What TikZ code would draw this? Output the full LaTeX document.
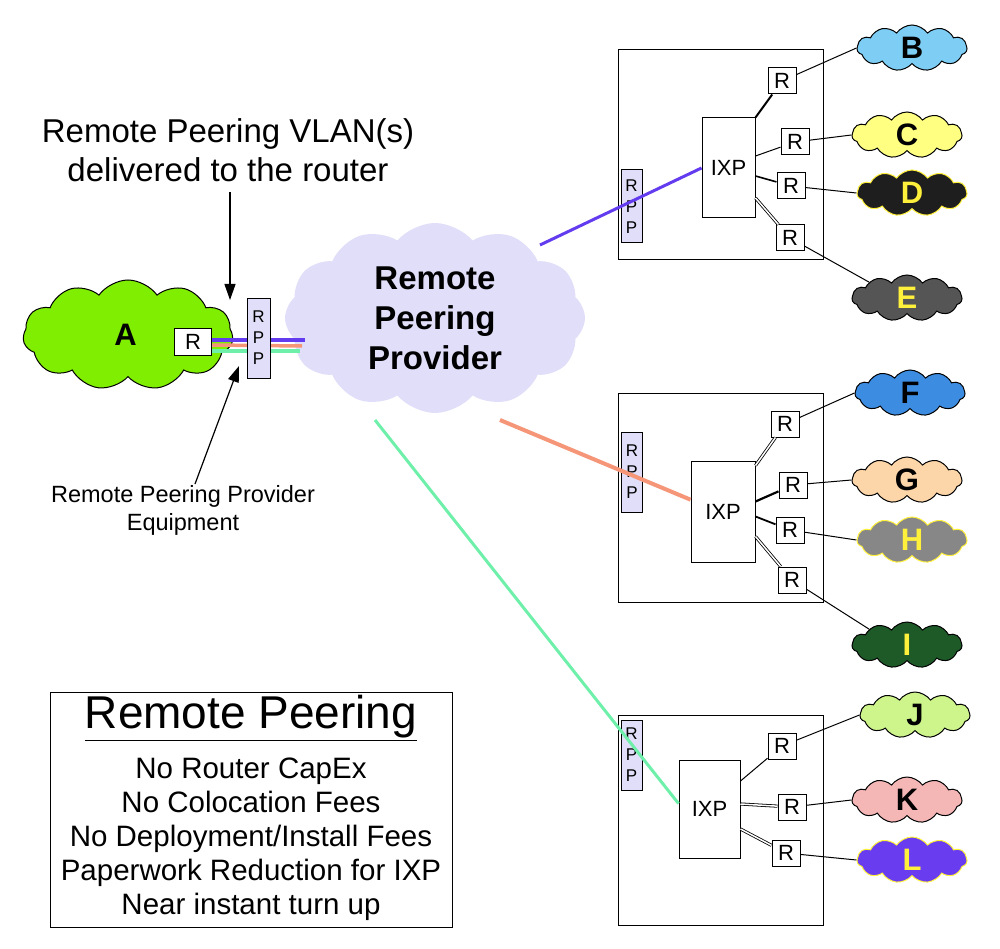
\documentclass[tikz,border=0pt]{standalone}
\usepackage{fontspec}
\setmainfont{Liberation Sans}
\usetikzlibrary{shapes.symbols,arrows.meta}
\begin{document}
\begin{tikzpicture}[x=1pt,y=-1pt,
  cl/.style={cloud,cloud puffs=11,cloud puff arc=110,aspect=2.4,draw=black,line width=1pt,minimum width=110pt,minimum height=46pt,inner sep=0pt,font=\fontsize{31}{33}\selectfont\bfseries},
  box/.style={draw=black,line width=1pt,fill=white},
  rr/.style={draw=black,line width=1pt,fill=white,minimum width=28pt,minimum height=26pt,inner sep=0pt,font=\fontsize{22}{22}\selectfont},
  rpp/.style={draw=black,line width=1pt,fill={rgb,255:red,224;green,222;blue,248},minimum width=21pt,inner sep=0pt,align=center,font=\fontsize{17}{21}\selectfont},
  ixp/.style={draw=black,line width=1pt,fill=white,inner sep=0pt,font=\fontsize{22}{22}\selectfont},
  ln/.style={line width=1pt},
  dl/.style={double,double distance=1.5pt,line width=0.8pt},
  txt/.style={align=center}]
\useasboundingbox (0,0) rectangle (1000,949);
\definecolor{pur}{RGB}{100,60,240}
\definecolor{sal}{RGB}{245,150,120}
\definecolor{grn}{RGB}{110,240,170}
\coordinate (c1) at (540,245);
\coordinate (c2) at (500,420);
\coordinate (c3) at (375,420);
\draw[box] (618,50) rectangle (823,260);
\draw[box] (618,393) rectangle (823,602);
\draw[box] (618,715) rectangle (823,925);
\node[ixp,minimum width=53pt,minimum height=100pt] (x1) at (728.5,168) {IXP};
\node[ixp,minimum width=64pt,minimum height=101pt] (x2) at (723,511.5) {IXP};
\node[ixp,minimum width=61pt,minimum height=98pt] (x3) at (709.5,809) {IXP};
\node[rpp,minimum height=73pt] (p1) at (631.5,206.5) {R\\P\\P};
\node[rpp,minimum height=80pt] (p2) at (632,472) {R\\P\\P};
\node[rpp,minimum height=70pt] (p3) at (631.5,755) {R\\P\\P};
\draw[pur,line width=3pt] (c1) -- (x1.west);
\draw[sal,line width=4pt] (c2) -- (x2.160);
\draw[grn,line width=3pt] (c3) -- (x3.170);
\node[cloud,cloud puffs=12,cloud puff arc=100,aspect=1.6,fill={rgb,255:red,224;green,222;blue,248},minimum width=300pt,minimum height=190pt,align=center,font=\fontsize{33}{40}\selectfont\bfseries] (rp) at (435,318) {Remote\\Peering\\Provider};
\node[rr] (r1) at (782,81) {R};
\node[rr] (r2) at (795,142) {R};
\node[rr] (r3) at (791,186) {R};
\node[rr] (r4) at (790,238) {R};
\node[rr] (r5) at (785,424) {R};
\node[rr] (r6) at (793,485) {R};
\node[rr] (r7) at (790,530) {R};
\node[rr] (r8) at (792,580) {R};
\node[rr] (r9) at (782,746) {R};
\node[rr] (r10) at (792,807) {R};
\node[rr] (r11) at (786,853) {R};
\draw[ln,line width=2pt] (x1.north east) -- (r1);
\draw[ln] (x1.east) ++(0,-12) -- (r2);
\draw[ln,line width=1.6pt] (x1.east) ++(0,8) -- (r3);
\draw[dl] (x1.east) ++(0,30) -- (r4);
\draw[dl] (x2.north east) ++(0,5) -- (r5);
\draw[ln,line width=2.2pt] (x2.east) ++(0,-10) -- (r6);
\draw[ln,line width=1.8pt] (x2.east) ++(0,5) -- (r7);
\draw[dl] (x2.east) ++(0,25) -- (r8);
\draw[ln] (x3.east) ++(0,-28) -- (r9);
\draw[dl] (x3.east) ++(0,-5) -- (r10);
\draw[dl] (x3.east) ++(0,20) -- (r11);
\node[cl,fill={rgb,255:red,125;green,205;blue,245}] (B) at (912,48) {B};
\node[cl,fill={rgb,255:red,255;green,255;blue,130}] (C) at (907,135) {C};
\node[cl,fill={rgb,255:red,30;green,30;blue,30},text={rgb,255:red,255;green,240;blue,60},draw={rgb,255:red,255;green,240;blue,60}] (D) at (912,193) {D};
\node[cl,fill={rgb,255:red,85;green,85;blue,85},text={rgb,255:red,255;green,240;blue,60}] (E) at (907,298) {E};
\node[cl,fill={rgb,255:red,60;green,140;blue,225}] (F) at (910,393) {F};
\node[cl,fill={rgb,255:red,252;green,213;blue,168}] (G) at (907,480) {G};
\node[cl,fill={rgb,255:red,135;green,135;blue,135},text={rgb,255:red,255;green,240;blue,60},draw={rgb,255:red,255;green,240;blue,60}] (H) at (912,540) {H};
\node[cl,fill={rgb,255:red,30;green,90;blue,40},text={rgb,255:red,255;green,240;blue,60}] (I) at (907,645) {I};
\node[cl,fill={rgb,255:red,205;green,245;blue,140}] (J) at (915,715) {J};
\node[cl,fill={rgb,255:red,245;green,182;blue,182}] (K) at (907,800) {K};
\node[cl,fill={rgb,255:red,105;green,60;blue,240},text={rgb,255:red,255;green,240;blue,60},draw={rgb,255:red,255;green,240;blue,60}] (L) at (912,860) {L};
\draw[ln] (r1) -- (B.west);
\draw[ln] (r2) -- (C.west);
\draw[ln] (r3) -- (D.west);
\draw[ln] (r4) -- (E.north west);
\draw[ln] (r5) -- (F.west);
\draw[ln] (r6) -- (G.west);
\draw[ln] (r7) -- (H.west);
\draw[ln] (r8) -- (I.north west);
\draw[ln] (r9) -- (J.west);
\draw[ln] (r10) -- (K.west);
\draw[ln] (r11) -- (L.west);
\node[cl,fill={rgb,255:red,128;green,238;blue,0},minimum width=210pt,minimum height=110pt,aspect=2] (A) at (128,335) {\hspace*{-5pt}A};
\node[rr,minimum width=37pt,minimum height=27pt] (ra) at (193,342) {R};
\coordinate (e1) at (305,340);
\coordinate (e2) at (302,346);
\coordinate (e3) at (300,351);
\draw[pur,line width=3.5pt] (ra.east) ++(0,-2) -- (e1);
\draw[sal,line width=3.5pt] (ra.east) ++(0,3) -- (e2);
\draw[grn,line width=3.5pt] (ra.east) ++(0,9) -- (e3);
\node[rpp,minimum height=80pt,minimum width=23pt] (pa) at (258.5,338) {R\\P\\P};
\node[txt,font=\fontsize{33}{39}\selectfont] (t1) at (228,150) {Remote Peering VLAN(s)\\delivered to the router};
\coordinate (a1) at (230,300);
\draw[line width=1.2pt,-{Triangle[length=16pt,width=11pt]}] (230,192) -- (a1);
\node[txt,font=\fontsize{23.5}{28}\selectfont] (t2) at (183,510) {Remote Peering Provider\\Equipment};
\coordinate (a2) at (239,366);
\draw[line width=1.2pt,-{Triangle[length=16pt,width=11pt]}] (195,484) -- (a2);
\draw[box] (50,692) rectangle (452,927);
\node[font=\fontsize{46}{48}\selectfont] (lg) at (251,718) {\underline{Remote Peering}};
\node[txt,font=\fontsize{29.5}{34}\selectfont,anchor=north] (lt) at (251,754) {No Router CapEx\\No Colocation Fees\\No Deployment/Install Fees\\Paperwork Reduction for IXP\\Near instant turn up};
\end{tikzpicture}
\end{document}
